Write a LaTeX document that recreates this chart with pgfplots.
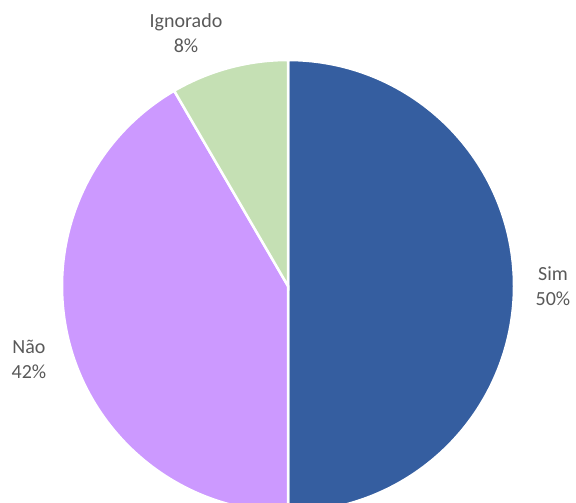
\documentclass[border=0pt]{standalone}
\usepackage{pgfplots}
\pgfplotsset{compat=1.18}
\usepackage{pgfplotstable}
\usepackage{fontspec}
\setmainfont{Carlito}

\definecolor{simblue}{HTML}{355EA0}
\definecolor{naolilac}{HTML}{CC99FF}
\definecolor{ignogreen}{HTML}{C5E0B4}
\definecolor{labelgray}{HTML}{595959}

% share of each answer, in percent
\pgfplotstableread{
label value
Sim 50
Não 41.6
Ignorado 8.4
}\piedata

\begin{document}
\begin{tikzpicture}
% angles, clockwise from the top
\pgfplotstablegetelem{0}{value}\of\piedata \let\va=\pgfplotsretval
\pgfplotstablegetelem{1}{value}\of\piedata \let\vb=\pgfplotsretval
\pgfplotstablegetelem{2}{value}\of\piedata \let\vc=\pgfplotsretval
\pgfmathsetmacro\aA{90}
\pgfmathsetmacro\aB{\aA-3.6*\va}
\pgfmathsetmacro\aC{\aB-3.6*\vb}
\pgfmathsetmacro\aD{\aC-3.6*\vc}
\pgfkeys{/pgf/number format/.cd, fixed, precision=0, assume math mode=true}
\tikzset{lbl/.style={font=\fontsize{20}{25}\selectfont, text=labelgray, align=center, inner sep=0pt}}
\begin{axis}[
  name=pie,
  width=576pt, height=503pt, scale only axis,
  xmin=0, xmax=576, ymin=0, ymax=503, y dir=reverse,
  axis lines=none, clip=true,
]
\fill[simblue, draw=white, line width=2.5pt] (axis cs:288,286) -- ++(\aA:226pt) arc[start angle=\aA, end angle=\aB, radius=226pt] -- cycle;
\fill[naolilac, draw=white, line width=2.5pt] (axis cs:288,286) -- ++(\aB:226pt) arc[start angle=\aB, end angle=\aC, radius=226pt] -- cycle;
\fill[ignogreen, draw=white, line width=2.5pt] (axis cs:288,286) -- ++(\aC:226pt) arc[start angle=\aC, end angle=\aD, radius=226pt] -- cycle;
\node[lbl] at (axis cs:553,286) {Sim\\\pgfmathprintnumber{\va}\%};
\node[lbl] at (axis cs:29,359) {Não\\\pgfmathprintnumber{\vb}\%};
\node[lbl] at (axis cs:186,33) {Ignorado\\\pgfmathprintnumber{\vc}\%};
\end{axis}
\pgfresetboundingbox
\path (pie.south west) rectangle (pie.north east);
\end{tikzpicture}
\end{document}
